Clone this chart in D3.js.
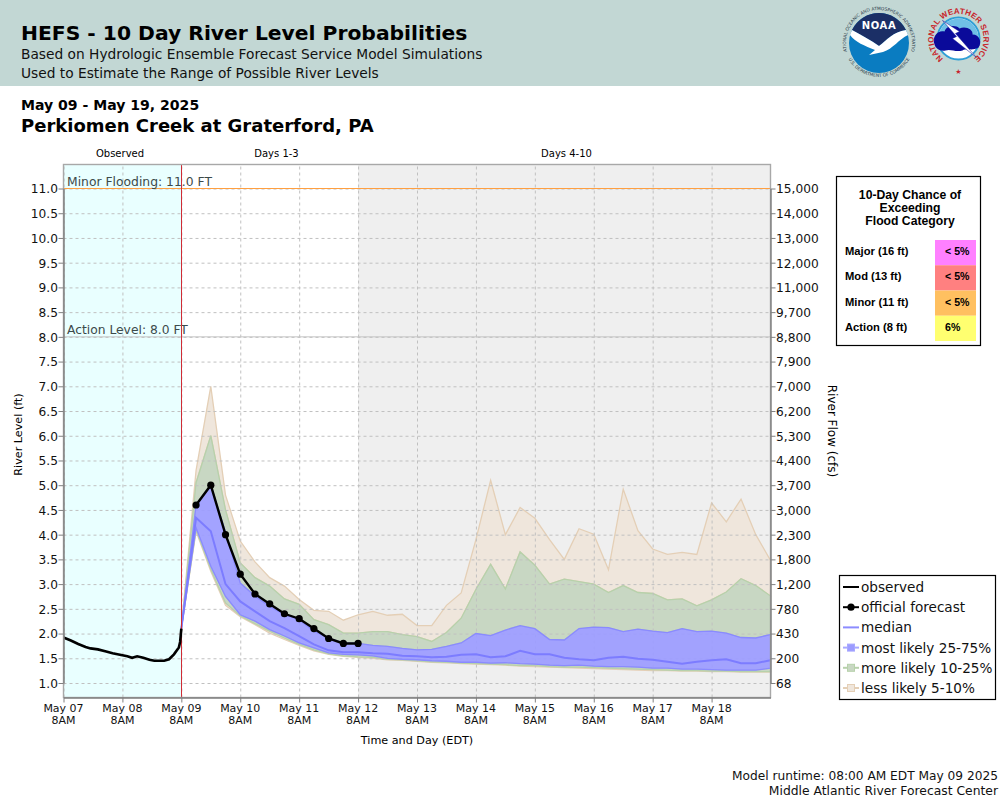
<!DOCTYPE html>
<html><head><meta charset="utf-8">
<script src="https://cdn.jsdelivr.net/npm/d3@7/dist/d3.min.js"></script>
<style>html,body{margin:0;padding:0;background:#fff}svg{display:block}text{font-family:"DejaVu Sans",sans-serif}</style>
</head><body><svg id="c" width="1000" height="800"></svg>
<script>
// ---------- data ----------
const forecastHours = d3.range(0, 246, 6);
const p05 = [2.1,5.3,7.0,4.8,3.87,3.45,3.13,2.96,2.69,2.47,2.45,2.27,2.38,2.45,2.37,2.39,2.16,2.16,2.57,2.82,3.9,5.1,4.0,4.55,4.33,3.9,3.5,4.12,4.01,3.29,4.92,4.08,3.71,3.6,3.64,3.6,4.64,4.26,4.72,4.0,3.48];
const p10 = [2.1,5.05,6.0,4.5,3.43,3.13,2.96,2.7,2.59,2.28,2.18,2.01,2.01,2.04,2.04,1.98,1.94,1.84,2.02,2.31,2.89,3.4,2.9,3.65,3.38,3.0,3.1,3.05,3.0,2.83,2.97,2.83,2.81,2.68,2.7,2.56,2.68,2.84,3.11,2.97,2.76];
const p25 = [2.1,4.6,5.0,4.05,3.02,2.76,2.55,2.38,2.28,2.05,1.91,1.81,1.8,1.76,1.74,1.7,1.67,1.68,1.74,1.81,2.0,1.96,2.07,2.16,2.1,1.88,1.87,2.1,2.13,2.12,2.04,2.09,2.05,2.02,2.1,2.04,2.05,2.01,1.92,1.91,1.98];
const p50 = [2.1,4.34,4.07,3.0,2.65,2.45,2.25,2.11,1.95,1.78,1.66,1.62,1.62,1.6,1.59,1.55,1.54,1.52,1.53,1.57,1.58,1.52,1.54,1.65,1.58,1.58,1.51,1.48,1.46,1.51,1.53,1.49,1.47,1.43,1.39,1.43,1.46,1.48,1.4,1.4,1.46];
const p75 = [2.1,4.14,3.36,2.75,2.38,2.25,2.08,1.95,1.81,1.71,1.61,1.58,1.57,1.55,1.5,1.48,1.47,1.45,1.44,1.42,1.42,1.4,1.41,1.39,1.38,1.36,1.35,1.36,1.34,1.33,1.33,1.32,1.3,1.3,1.28,1.28,1.27,1.26,1.26,1.26,1.3];
const p90 = [2.1,4.1,3.3,2.62,2.36,2.2,2.05,1.91,1.78,1.67,1.59,1.55,1.53,1.52,1.48,1.47,1.45,1.43,1.42,1.4,1.39,1.38,1.37,1.35,1.35,1.33,1.32,1.32,1.31,1.3,1.29,1.28,1.27,1.26,1.25,1.25,1.24,1.24,1.23,1.23,1.23];
const p95 = [2.1,4.07,3.26,2.57,2.34,2.18,2.01,1.88,1.76,1.65,1.58,1.54,1.52,1.5,1.47,1.46,1.44,1.42,1.41,1.39,1.38,1.37,1.36,1.34,1.33,1.32,1.31,1.3,1.29,1.28,1.27,1.26,1.25,1.25,1.24,1.24,1.23,1.23,1.22,1.22,1.22];
const officialHours = [6,12,18,24,30,36,42,48,54,60,66,72];
const official = [4.6,5.0,4.0,3.2,2.8,2.6,2.4,2.3,2.1,1.9,1.8,1.8];
const observedHours = [0,3,6,9,11,14,17,20,23,26,28,30,32.5,35,37,41,43,45,47,47.5,48];
const observed = [1.92,1.86,1.79,1.73,1.70,1.68,1.64,1.60,1.57,1.54,1.51,1.54,1.51,1.47,1.45,1.45,1.48,1.58,1.72,1.83,2.1];
const levelTicks = [1,1.5,2,2.5,3,3.5,4,4.5,5,5.5,6,6.5,7,7.5,8,8.5,9,9.5,10,10.5,11];
const flowLabels = ["68","200","430","780","1,200","1,800","2,300","3,000","3,700","4,400","5,300","6,200","7,000","7,900","8,800","9,700","11,000","12,000","13,000","14,000","15,000"];
const dayLabels = ["May 07","May 08","May 09","May 10","May 11","May 12","May 13","May 14","May 15","May 16","May 17","May 18"];
const legendLabels = ["observed","official forecast","median","most likely 25-75%","more likely 10-25%","less likely 5-10%"];
const categoryLabels = ["Major (16 ft)","Mod (13 ft)","Minor (11 ft)","Action (8 ft)"];
const categoryChances = ["< 5%","< 5%","< 5%","6%"];
const categoryColors = ["#ff80ff","#ff8080","#ffc060","#ffff70"];

// ---------- layout ----------
const L=63.5,R=770.5,T=165,B=697.5;
const svg=d3.select("#c");
const t0=Date.UTC(2025,4,7,8), hour=36e5;
const fStart=t0+48*hour;
const x=d3.scaleUtc().domain([new Date(t0),new Date(t0+288*hour)]).range([L,R]);
const y=d3.scaleLinear().domain([1,11]).range([683,188.5]);
const fx=h=>x(new Date(fStart+h*hour));
const ox=h=>x(new Date(t0+h*hour));
const dayTicks=dayLabels.map((d,i)=>new Date(t0+i*24*hour));

// header band
svg.append("rect").attr("width",1000).attr("height",86).attr("fill","#c2d7d4");
const txt=(s,px,py,size,o={})=>svg.append("text").attr("x",px).attr("y",py).attr("font-size",size)
  .attr("font-weight",o.w||"normal").attr("fill",o.c||"#000").attr("text-anchor",o.a||"start")
  .attr("transform",o.r?`rotate(${o.r} ${px} ${py})`:null).text(s);
txt("HEFS - 10 Day River Level Probabilities",21,40,20.3,{w:"bold"});
txt("Based on Hydrologic Ensemble Forecast Service Model Simulations",21,59,13.76,{c:"#111"});
txt("Used to Estimate the Range of Possible River Levels",21,78,13.76,{c:"#111"});
txt("May 09 - May 19, 2025",21,110,14.05,{w:"bold"});
txt("Perkiomen Creek at Graterford, PA",21,132,18,{w:"bold"});
txt("Observed",120,157,10,{a:"middle"});
txt("Days 1-3",276.5,157,10,{a:"middle"});
txt("Days 4-10",566.5,157,10,{a:"middle"});

// NOAA logo
const noaa=svg.append("g").attr("transform","translate(879,43)");
noaa.append("circle").attr("r",30).attr("fill","#0a7cc1");
noaa.append("path").attr("d","M-27,-13 A30,30 0 0 1 27,-13 C14,-11 8,-3 0,3 C-8,-3 -18,-8 -27,-13Z").attr("fill","#1b2f66");
noaa.append("path").attr("d","M-29,-8 L-27,-13 C-18,-8 -8,-3 0,3 C8,-3 14,-11 27,-13 L29,-8 C20,-4 14,6 4,9 L-10,12 L-4,7 C-14,3 -24,-1 -29,-8Z").attr("fill","#fff");
noaa.append("text").attr("text-anchor","middle").attr("y",-14).attr("font-size",10).attr("font-weight","bold").attr("fill","#fff").attr("letter-spacing",".6").text("NOAA");
noaa.append("path").attr("id","noaaTop").attr("d","M-32,8 A33,33 0 1 1 32,8").attr("fill","none");
noaa.append("text").attr("font-size",4.4).attr("fill","#2a3a4a").append("textPath").attr("href","#noaaTop").attr("startOffset","50%").attr("text-anchor","middle").text("NATIONAL OCEANIC AND ATMOSPHERIC ADMINISTRATION");
noaa.append("path").attr("id","noaaBot").attr("d","M-30,17 A35,35 0 0 0 30,17").attr("fill","none");
noaa.append("text").attr("font-size",4.4).attr("fill","#2a3a4a").append("textPath").attr("href","#noaaBot").attr("startOffset","50%").attr("text-anchor","middle").text("U.S. DEPARTMENT OF COMMERCE");

// NWS logo
const nws=svg.append("g").attr("transform","translate(958.5,38.5)");
nws.append("circle").attr("r",21).attr("fill","#fff").attr("stroke","#2f9fd6").attr("stroke-width",2);
nws.append("path").attr("d","M-20,0 A20,20 0 0 1 20,0Z").attr("fill","#6fbfe6");
nws.append("path").attr("d","M-24,6 C-27,-2 -20,-9 -14,-7 C-12,-13 -3,-14 1,-10 C7,-13 15,-9 14,-4 C21,-4 24,4 20,9 C13,13 9,9 4,12 C-3,14 -8,10 -13,12 C-18,13 -23,10 -24,6Z").attr("fill","#0a0a9a");
nws.append("path").attr("d","M-16,-18 L1,-7 L-3,-5 L18,19 L-6,0 L-2,-2 Z").attr("fill","#fff").attr("stroke","#0a0a9a").attr("stroke-width",.5);
nws.append("path").attr("id","nwsTop").attr("d","M-14,21 A25,25 0 1 1 14,21").attr("fill","none");
nws.append("text").attr("font-size",8).attr("font-weight","bold").style("font-family","Liberation Sans").attr("fill","#c8242b").attr("letter-spacing",".15").append("textPath").attr("href","#nwsTop").attr("startOffset","50%").attr("text-anchor","middle").text("NATIONAL WEATHER SERVICE");
nws.append("text").attr("y",35).attr("text-anchor","middle").attr("font-size",7).attr("fill","#c8242b").text("★");

// plot backgrounds
svg.append("rect").attr("x",L).attr("y",T).attr("width",x(new Date(fStart))-L).attr("height",B-T).attr("fill","#e9ffff");
const grayStart=fx(72);
svg.append("rect").attr("x",grayStart).attr("y",T).attr("width",R-grayStart).attr("height",B-T).attr("fill","#efefef");

// outer bands sit under the grid, inner band above it
const band=(hi,lo)=>d3.area().x((d,i)=>fx(forecastHours[i])).y0((d,i)=>y(lo[i])).y1((d,i)=>y(hi[i]))(forecastHours);
const drawBand=(hi,lo,fill,op,stroke)=>svg.append("path").attr("d",band(hi,lo)).attr("fill",fill).attr("fill-opacity",op).attr("stroke",stroke).attr("stroke-width",1.3);
drawBand(p05,p10,"#efe6dc",1,"#e4cfb6");
drawBand(p90,p95,"#efe6dc",1,"#e4cfb6");
drawBand(p10,p25,"#c8d7c3",1,"#b7d1ab");
drawBand(p75,p90,"#c8d7c3",1,"#b7d1ab");

// grid via axes
const gridX=svg.append("g").attr("transform",`translate(0,${B})`)
  .call(d3.axisBottom(x).tickValues(dayTicks).tickSize(-(B-T)).tickFormat(""));
const gridY=svg.append("g").attr("transform",`translate(${L},0)`)
  .call(d3.axisLeft(y).tickValues(levelTicks).tickSize(-(R-L)).tickFormat(""));
[gridX,gridY].forEach(g=>{g.select(".domain").remove();g.selectAll("line").attr("stroke","#c0c0c0").attr("stroke-width",1).attr("stroke-dasharray","3,3");});

drawBand(p25,p75,"#9c9cff",.93,"#8a8aff");
const lineOf=(xs,f)=>d3.line().x((d,i)=>f(xs[i])).y(d=>y(d));
svg.append("path").attr("d",lineOf(forecastHours,fx)(p50)).attr("fill","none").attr("stroke","#7c7cff").attr("stroke-width",2);

// reference lines
svg.append("line").attr("x1",L).attr("x2",R).attr("y1",y(11)).attr("y2",y(11)).attr("stroke","#ff9f40").attr("stroke-width",1);
svg.append("line").attr("x1",L).attr("x2",R).attr("y1",y(8)).attr("y2",y(8)).attr("stroke","#c4c4c4").attr("stroke-width",1);
txt("Minor Flooding: 11.0 FT",67,186,12.35,{c:"#3c4a4a"});
txt("Action Level: 8.0 FT",67,334,12.3,{c:"#3c4a4a"});
svg.append("line").attr("x1",x(new Date(fStart))).attr("x2",x(new Date(fStart))).attr("y1",T).attr("y2",B).attr("stroke","#d02c36").attr("stroke-width",1).attr("shape-rendering","crispEdges");

// observed + official
svg.append("path").attr("d",lineOf(observedHours,ox)(observed)).attr("fill","none").attr("stroke","#000").attr("stroke-width",2.6);
svg.append("path").attr("d",lineOf(officialHours,fx)(official)).attr("fill","none").attr("stroke","#000").attr("stroke-width",2.4);
svg.selectAll("circle.off").data(official).join("circle").attr("class","off").attr("cx",(d,i)=>fx(officialHours[i])).attr("cy",d=>y(d)).attr("r",3.6).attr("fill","#000");

// frame
svg.append("rect").attr("x",L).attr("y",T-.5).attr("width",R-L).attr("height",B-T+.5).attr("fill","none").attr("stroke","#a8a8a8").attr("stroke-width",1.4);

// axes
const styleAxis=g=>{g.selectAll(".domain").attr("stroke","#808080").attr("stroke-width",1.4);g.selectAll("line").attr("stroke","#808080");g.selectAll("text").attr("font-size",12.2).attr("fill","#111").style("font-family","DejaVu Sans").attr("dy","0.36em");};
svg.append("g").attr("transform",`translate(${L},0)`).call(d3.axisLeft(y).tickValues(levelTicks).tickSize(5).tickPadding(0.5).tickSizeOuter(0).tickFormat(d3.format(".1f"))).call(styleAxis);
svg.append("g").attr("transform",`translate(${R},0)`).call(d3.axisRight(y).tickValues(levelTicks).tickSize(5).tickPadding(0.5).tickSizeOuter(0).tickFormat((d,i)=>flowLabels[i])).call(styleAxis);
svg.append("g").attr("transform",`translate(0,${B})`).call(d3.axisBottom(x).tickValues(dayTicks).tickSize(5).tickSizeOuter(0).tickFormat("")).call(styleAxis);
dayLabels.forEach((d,i)=>{const px=x(dayTicks[i]);txt(d,px,712,11,{a:"middle",c:"#111"});txt("8AM",px,724,11,{a:"middle",c:"#111"});});
txt("Time and Day (EDT)",417,744,11.2,{a:"middle"});
txt("River Level (ft)",21.5,434.5,11.2,{a:"middle",r:-90});
txt("River Flow (cfs)",828,431,12,{a:"middle",r:90});

// chance table
svg.append("rect").attr("x",836.5).attr("y",176.5).attr("width",144).attr("height",169).attr("fill","#fff").attr("stroke","#000").attr("stroke-width",1.2);
["10-Day Chance of","Exceeding","Flood Category"].forEach((s,i)=>{
  svg.append("text").attr("x",910).attr("y",199+i*13).attr("text-anchor","middle").attr("font-size",12.2).attr("font-weight","bold").style("font-family","Liberation Sans").text(s);});
const rowY=d3.scaleBand().domain(categoryLabels).range([240,341]);
categoryLabels.forEach((c,i)=>{
  svg.append("rect").attr("x",935).attr("y",rowY(c)).attr("width",41).attr("height",rowY.bandwidth()).attr("fill",categoryColors[i]);
  svg.append("text").attr("x",845).attr("y",rowY(c)+15).attr("font-size",11.2).attr("font-weight","bold").style("font-family","Liberation Sans").text(c);
  svg.append("text").attr("x",945).attr("y",rowY(c)+15).attr("font-size",10.6).attr("font-weight","bold").style("font-family","Liberation Sans").text(categoryChances[i]);
});

// legend
svg.append("rect").attr("x",839.5).attr("y",575.5).attr("width",156).attr("height",124).attr("fill","#fff").attr("stroke","#000").attr("stroke-width",1.2);
const legY=d3.scalePoint().domain(legendLabels).range([587,688]);
const legStyles=[{c:"#000"},{c:"#000",dot:1},{c:"#8c8cff"},{c:"#a8a8ff",sq:"#9c9cff"},{c:"#b7d1ab",sq:"#c8d7c3"},{c:"#e4cfb6",sq:"#efe6dc"}];
legendLabels.forEach((s,i)=>{
  const ly=legY(s),st=legStyles[i];
  svg.append("line").attr("x1",843).attr("x2",859).attr("y1",ly).attr("y2",ly).attr("stroke",st.c).attr("stroke-width",2);
  if(st.dot) svg.append("circle").attr("cx",851).attr("cy",ly).attr("r",3.6).attr("fill","#000");
  if(st.sq) svg.append("rect").attr("x",847.5).attr("y",ly-3.5).attr("width",7).attr("height",7).attr("fill",st.sq).attr("stroke",st.c);
  txt(s,861,ly+5,13.6,{c:"#111"});
});

// footer
txt("Model runtime: 08:00 AM EDT May 09 2025",998,780,12.2,{a:"end",c:"#111"});
txt("Middle Atlantic River Forecast Center",998,795,12.35,{a:"end",c:"#111"});
</script></body></html>
